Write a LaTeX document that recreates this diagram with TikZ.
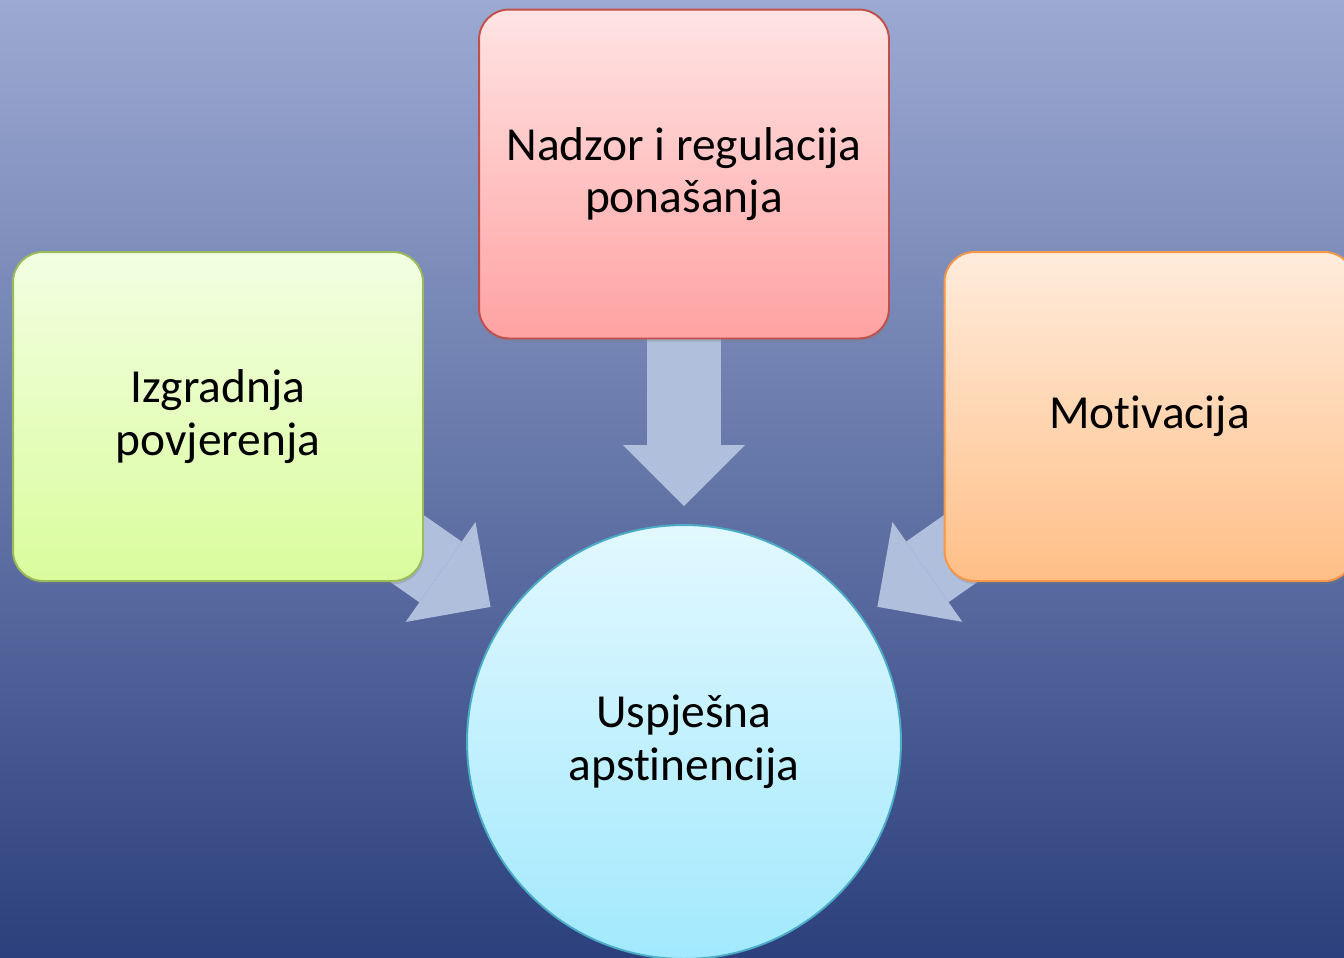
\documentclass[tikz,border=0pt]{standalone}
\usepackage{fontspec}
\setmainfont[Ligatures={NoCommon,NoRare}]{Carlito}
\usetikzlibrary{positioning,arrows.meta,shadows}
\definecolor{bgtop}{HTML}{9CAAD2}
\definecolor{bgmid}{HTML}{6A7AAE}
\definecolor{bgbot}{HTML}{2C407D}
\definecolor{flowfill}{HTML}{B0BFDC}
\definecolor{redtop}{HTML}{FFE4E4}
\definecolor{redbot}{HTML}{FFA2A2}
\definecolor{redline}{HTML}{C0504D}
\definecolor{greentop}{HTML}{F2FFE2}
\definecolor{greenbot}{HTML}{DAFC9C}
\definecolor{greenline}{HTML}{9BBB59}
\definecolor{orangetop}{HTML}{FFECDC}
\definecolor{orangebot}{HTML}{FFBF87}
\definecolor{orangeline}{HTML}{F79646}
\definecolor{cyantop}{HTML}{E2F8FF}
\definecolor{cyanbot}{HTML}{A2E9FD}
\definecolor{cyanline}{HTML}{4BACC6}
\pgfdeclarelayer{back}
\pgfdeclarelayer{flows}
\pgfsetlayers{back,flows,main}

\begin{document}
\begin{tikzpicture}[
x=0.02cm, y=-0.02cm,
box/.style={
  rectangle,
  rounded corners=0.6cm,
  line width=1.1pt,
  minimum width=8.2cm,
  minimum height=6.58cm,
  align=center,
  drop shadow={shadow xshift=0.5pt, shadow yshift=-1.8pt, opacity=0.3}
  },
hub/.style={
  circle,
  draw=cyanline,
  line width=1.1pt,
  minimum size=8.68cm,
  top color=cyantop,
  bottom color=cyanbot,
  align=center
  },
flow/.style={
  draw=flowfill,
  line width=1.48cm,
  -{Triangle[length=1.22cm,width=2.44cm,line width=0pt]},
  shorten >=4.72cm
  },
font=\fontsize{27}{30}\selectfont
]
\useasboundingbox (0,0) rectangle (1344,957);
\clip (0,0) rectangle (1344,957);
\begin{pgfonlayer}{back}
  \shade[top color=bgtop, middle color=bgmid, bottom color=bgbot] (0,0) rectangle (1344,957);
\end{pgfonlayer}
\node[box, draw=redline, top color=redtop, bottom color=redbot] (ctrl) at (684,174) {Nadzor i regulacija\\ponašanja};
\node[box, draw=greenline, top color=greentop, bottom color=greenbot] (trust) at (218,416.5) {Izgradnja\\povjerenja};
\node[box, draw=orangeline, top color=orangetop, bottom color=orangebot] (motiv) at (1149.5,416.5) {Motivacija};
\node[hub] (goal) at (684,742) {Uspješna\\apstinencija};
\begin{pgfonlayer}{flows}
  \draw[flow] (ctrl.center) -- (goal.center);
  \draw[flow] (trust.center) -- (goal.center);
  \draw[flow] (motiv.center) -- (goal.center);
\end{pgfonlayer}
\end{tikzpicture}
\end{document}
